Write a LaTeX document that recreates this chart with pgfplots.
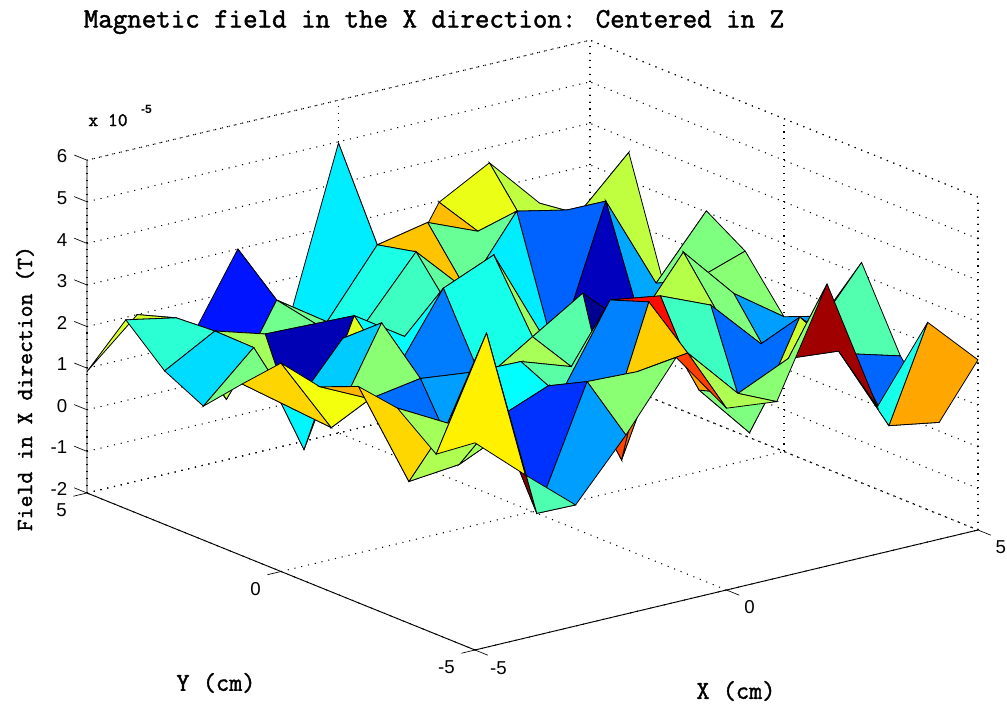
\documentclass[border=0pt]{standalone}
\usepackage{fontspec}
\setsansfont{Liberation Sans}
\newfontfamily\tw[FakeBold=1.6]{Latin Modern Mono}
\usepackage{pgfplots}
\usepackage{pgfplotstable}
\pgfplotsset{compat=1.18}
\pgfplotstableread{
x y z m
5 5 1.2 2.49
4 5 2.37 2.4
3 5 3.63 2.65
2 5 2.97 3.15
1 5 .96 3.1
0 5 4.97 1.2
-1 5 .93 2.15
-2 5 3.0 -.05
-3 5 .98 2.3
-4 5 2.0 2.54
-5 5 .92 0
5 4 3.68 2.4
4 4 2.49 3.25
3 4 2.4 3.51
2 4 2.65 1.9
1 4 3.15 3.11
0 4 2.9 1.45
-1 4 1.34 1.96
-2 4 2.15 1.95
-3 4 .05 2.36
-4 4 2.3 1.55
-5 4 2.54 0
5 3 .54 1.58
4 3 2.4 3.84
3 3 3.25 .4
2 3 3.51 1.2
1 3 1.9 1.85
0 3 3.11 1.65
-1 3 1.7 2.53
-2 3 1.96 -.6
-3 3 2.0 2.25
-4 3 2.36 1.1
-5 3 1.69 0
5 2 3.03 2.03
4 2 1.58 .8
3 2 3.84 -.55
2 2 .4 1.5
1 2 1.2 3.79
0 2 1.93 3.28
-1 2 1.74 1.3
-2 2 2.53 2.6
-3 2 -.4 1.25
-4 2 2.34 2.0
-5 2 1.22 0
5 1 2.44 2.09
4 1 2.03 3.37
3 1 1.0 1.83
2 1 -.37 2.96
1 1 1.5 2.2
0 1 3.79 1.43
-1 1 3.28 .55
-2 1 1.46 3.4
-3 1 2.65 1.0
-4 1 1.25 3.01
-5 1 2.13 0
5 0 1.24 .75
4 0 2.09 2.05
3 0 3.37 2.35
2 0 1.83 -.8
1 0 2.96 1.8
0 0 2.2 2.27
-1 0 1.43 2.3
-2 0 .55 2.1
-3 0 3.4 2.1
-4 0 1.17 2.7
-5 0 3.01 0
5 -1 1.63 1.84
4 -1 .8 1.92
3 -1 2.1 3.14
2 -1 2.35 3.65
1 -1 -.67 3.84
0 -1 1.86 1.82
-1 -1 2.27 1.3
-2 -1 2.3 .75
-3 -1 2.44 .47
-4 -1 2.24 3.2
-5 -1 2.82 0
5 -2 3.3 1.77
4 -2 1.84 2.94
3 -2 1.92 .45
2 -2 3.14 1.65
1 -2 3.65 4.17
0 -2 3.84 .58
-1 -2 1.82 2.73
-2 -2 1.3 2.25
-3 -2 .75 2.3
-4 -2 .63 3.0
-5 -2 3.2 0
5 -3 1.43 .42
4 -3 1.77 2.5
3 -3 2.94 2.5
2 -3 .45 2.03
1 -3 1.76 3.32
0 -3 4.17 3.05
-1 -3 .65 3.21
-2 -3 2.73 .12
-3 -3 2.25 4.95
-4 -3 2.41 2.25
-5 -3 3.06 0
5 -4 .21 3.28
4 -4 .42 1.42
3 -4 2.5 4.78
2 -4 2.61 2.1
1 -4 2.06 2.3
0 -4 3.32 3.88
-1 -4 3.16 2.1
-2 -4 3.21 .75
-3 -4 .33 1.75
-4 -4 4.95 2.85
-5 -4 2.33 0
5 -5 2.09 0
4 -5 3.28 0
3 -5 1.54 0
2 -5 4.78 0
1 -5 2.24 0
0 -5 2.37 0
-1 -5 3.88 0
-2 -5 2.3 0
-3 -5 .91 0
-4 -5 1.92 0
-5 -5 2.98 0
}\surfdata
\begin{document}
\begin{tikzpicture}
\path[use as bounding box] (-399.375pt,321.225pt) rectangle (355.875pt,-210.525pt);
\begin{axis}[
  at={(0pt,0pt)}, anchor=origin,
  x={(37.725pt,9pt)}, y={(-29.1pt,11.775pt)}, z={(0pt,31.2pt)},
  xmin=-5,xmax=5,ymin=-5,ymax=5,zmin=-2,zmax=6,
  clip=false,
  xtick={-5,0,5}, ytick={-5,0,5}, ztick={-2,-1,0,1,2,3,4,5,6},
  grid=major,
  grid style={black,line width=.8pt,dash pattern=on .8pt off 4.4pt},
  tick style={draw=none},
  axis line style={draw=none},
  tick align=outside,
  major tick length=10pt,
  tick label style={font=\sffamily\fontsize{14}{15}\selectfont},
  x tick label style={xshift=2pt,yshift=-.5pt},
  y tick label style={anchor=east,xshift=-2pt,yshift=-10.5pt},
  z tick label style={xshift=-2pt,yshift=-1.5pt},
  /pgf/number format/assume math mode=true,
  title={\tw\fontsize{21.1}{22}\selectfont Magnetic field in the X direction: Centered in Z},
  title style={at={(axis cs:0,0,0)},anchor=center,xshift=-73.9pt,yshift=298.75pt},
  xlabel={\tw\fontsize{19.2}{20}\selectfont X (cm)},
  xlabel style={at={(axis cs:0,-5,-2)},anchor=center,xshift=7.1pt,yshift=-75.75pt},
  ylabel={\tw\fontsize{19.2}{20}\selectfont Y (cm)},
  ylabel style={at={(axis cs:-5,0,-2)},anchor=center,xshift=-48.75pt,yshift=-83.6pt},
  zlabel={\tw\fontsize{17.3}{18}\selectfont Field in X direction (T)},
  zlabel style={at={(axis cs:-5,5,2)},anchor=center,rotate=0,xshift=-46.5pt,yshift=46.5pt},
  colormap/jet,
  point meta min=-.9, point meta max=4.97,
]
\draw[black,line width=.8pt,dash pattern=on .8pt off 4.4pt]
  (axis cs:-5,5,-2) -- (axis cs:5,5,-2) -- (axis cs:5,-5,-2) -- (axis cs:5,-5,6) -- (axis cs:5,5,6) -- (axis cs:-5,5,6)
  (axis cs:5,5,-2) -- (axis cs:5,5,6);
\draw[black,line width=.7pt]
  (axis cs:-5,5,6) -- (axis cs:-5,5,-2) -- (axis cs:-5,-5,-2) -- (axis cs:5,-5,-2);
\draw[black,line width=.5pt]
  (axis cs:-5,5,-2) -- (axis cs:-5,5.33,-2)
  (axis cs:-5,5,-1) -- (axis cs:-5,5.33,-1)
  (axis cs:-5,5,0) -- (axis cs:-5,5.33,0)
  (axis cs:-5,5,1) -- (axis cs:-5,5.33,1)
  (axis cs:-5,5,2) -- (axis cs:-5,5.33,2)
  (axis cs:-5,5,3) -- (axis cs:-5,5.33,3)
  (axis cs:-5,5,4) -- (axis cs:-5,5.33,4)
  (axis cs:-5,5,5) -- (axis cs:-5,5.33,5)
  (axis cs:-5,5,6) -- (axis cs:-5,5.33,6)
  (axis cs:-5,5,-2) -- (axis cs:-5.27,5,-2)
  (axis cs:-5,0,-2) -- (axis cs:-5.27,0,-2)
  (axis cs:-5,-5,-2) -- (axis cs:-5.27,-5,-2)
  (axis cs:-5,-5,-2) -- (axis cs:-5,-5.33,-2)
  (axis cs:0,-5,-2) -- (axis cs:0,-5.33,-2)
  (axis cs:5,-5,-2) -- (axis cs:5,-5.33,-2);
\addplot3[surf, shader=flat corner, draw=black, line width=.6pt, z buffer=none,
  mesh/rows=11, mesh/cols=11, point meta=\thisrow{m}]
  table[x=x,y=y,z=z] {\surfdata};
\node[font=\tw\fontsize{14.3}{15}\selectfont,anchor=west] at (axis cs:-5,5,6) [xshift=-2.5pt,yshift=30pt] {x 10};
\node[font=\sffamily\bfseries\fontsize{9}{10}\selectfont,anchor=west] at (axis cs:-5,5,6) [xshift=37pt,yshift=38pt] {-5};
\end{axis}
\end{tikzpicture}
\end{document}
